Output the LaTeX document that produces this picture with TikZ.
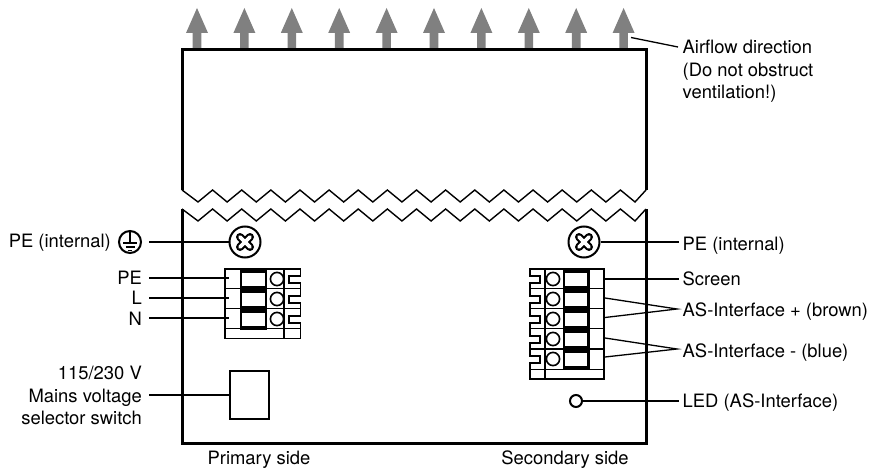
\documentclass[tikz,border=0pt]{standalone}
\usepackage{fontspec}
\setmainfont{TeX Gyre Heros}
\tikzset{
  x=1pt,y=-1pt,
  housing/.style={line width=3pt,line join=miter},
  zig/.style={line width=1.4pt,line join=miter},
  lead/.style={line width=1.3pt},
  thinline/.style={line width=1.3pt},
  outerline/.style={line width=1.8pt,line join=miter},
  flow/.style={fill=black!50,draw=none},
  txt/.style={font=\fontsize{18.4}{22.5}\selectfont,inner sep=0pt},
  ltxt/.style={txt,anchor=base west},
  rtxt/.style={txt,anchor=base east},
  ctxt/.style={txt,anchor=base},
  roundnode/.style={circle,draw,line width=2pt,fill=white,inner sep=0pt,minimum size=#1}
}
\newcommand{\screwcross}[1]{%
  \begin{scope}[shift={(#1)}]
    \draw[line width=8pt,line cap=round] (-5,-5) -- (5,5) (-5,5) -- (5,-5);
    \draw[white,line width=3.6pt,line cap=round] (-5,-5) -- (5,5) (-5,5) -- (5,-5);
  \end{scope}}
\begin{document}
\begin{tikzpicture}
\useasboundingbox (0,0) rectangle (884,468);
% airflow arrows
\foreach \i in {0,...,9}{
  \pgfmathsetmacro{\cx}{197+47.4*\i}
  \fill[flow] (\cx-4.3,50) -- (\cx-4.3,33) -- (\cx-11,33) -- (\cx,8) -- (\cx+11,33) -- (\cx+4.3,33) -- (\cx+4.3,50) -- cycle;
}
% labels
\node[txt,anchor=west,align=left] (air) at (682.5,71.5) {Airflow direction\\(Do not obstruct\\ventilation!)};
\node[rtxt] (pel) at (111,247) {PE (internal)};
\node[circle,draw,line width=2pt,minimum size=22pt,inner sep=0pt] (gnd) at (130,242) {};
\node[rtxt] (lpe) at (142,284.3) {PE};
\node[rtxt] (ll) at (142,304) {L};
\node[rtxt] (ln) at (142,325) {N};
\node[txt,anchor=east,align=right] (sw) at (142,395.5) {115/230 V\\Mains voltage\\selector switch};
\node[ctxt] (prim) at (259,464) {Primary side};
\node[ctxt] (sec) at (565,464) {Secondary side};
\node[ltxt] (per) at (682.5,250) {PE (internal)};
\node[ltxt] (scr) at (682.5,285.3) {Screen};
\node[ltxt] (asp) at (682.5,316.5) {AS-Interface + (brown)};
\node[ltxt] (asm) at (682.5,357) {AS-Interface - (blue)};
\node[ltxt] (led) at (682.5,407.5) {LED (AS-Interface)};
% ground symbol
\draw[line width=1.3pt] (130,232) -- (130,243);
\draw[line width=1.3pt] (123,243) -- (137,243) (125.5,247) -- (134.5,247) (128,250.5) -- (132,250.5);
% housing
\draw[housing] (182,190) -- (182,50) -- (646,50) -- (646,190);
\draw[housing] (182,209) -- (182,443) -- (646,443) -- (646,209);
\draw[zig] (182,190) -- plot[samples at={0,...,30}] ({198+14.567*\x},{202-12*mod(\x,2)}) -- (646,190);
\draw[zig] (182,209) -- plot[samples at={0,...,30}] ({198+14.567*\x},{221-12*mod(\x,2)}) -- (646,209);
% coordinates on components
\coordinate (airtip) at (631,37.5);
\coordinate (airend) at (678,47);
\coordinate (lgnd) at (149,242);
\coordinate (rt) at (679,242);
\coordinate (a1) at (149,278); \coordinate (b1) at (229,278);
\coordinate (a2) at (149,298); \coordinate (b2) at (229,298);
\coordinate (a3) at (149,318); \coordinate (b3) at (229,318);
\coordinate (swa) at (149,395);
\coordinate (scra) at (604,279); \coordinate (scrb) at (679,279);
\coordinate (p1) at (605,298); \coordinate (p2) at (605,317.5); \coordinate (pe) at (677,309);
\coordinate (m1) at (605,338); \coordinate (m2) at (605,357); \coordinate (me) at (677,349);
\coordinate (lede) at (679,401);
% screws, switch, led
\node[roundnode=31pt] (sl) at (245,242) {};
\node[roundnode=31pt] (sr) at (584,242) {};
\screwcross{245,242}
\screwcross{584,242}
\node[draw,line width=1.8pt,minimum width=39pt,minimum height=48pt,inner sep=0pt] (swbox) at (249.5,395) {};
\node[roundnode=12pt] (ledc) at (576,401) {};
% left terminal
\draw[thinline] (225,288.7) -- (300,288.7) (225,308.7) -- (300,308.7) (225,328.7) -- (300,328.7);
\draw[thinline] (284,269) -- (284,338);
\fill[black] (240,269) rectangle (266.5,329.5);
\foreach \y in {272.7,292.7,312.7}{\fill[white] (241.8,\y) rectangle (264.6,\y+13.6);}
\foreach \y in {279,299,319}{\draw[line width=1.6pt,fill=white] (277,\y) circle (6.6);}
\draw[outerline] (225,269) -- (300.5,269) -- (300.5,276) -- (289,276) -- (289,283) -- (300.5,283) -- (300.5,296) -- (289,296) -- (289,303) -- (300.5,303) -- (300.5,316) -- (289,316) -- (289,323) -- (300.5,323) -- (300.5,338.5) -- (225,338.5) -- cycle;
% right terminal
\draw[thinline] (530,288.5) -- (604,288.5) (530,308.7) -- (604,308.7) (530,328.7) -- (604,328.7) (530,349) -- (604,349) (530,369.5) -- (604,369.5);
\draw[thinline] (545,269) -- (545,379);
\fill[black] (563,269) rectangle (589.5,369.5);
\foreach \y in {272.5,292.7,312.7,332.7,353}{\fill[white] (564.8,\y) rectangle (587.4,\y+13);}
\foreach \y in {279,299,319,339,359}{\draw[line width=1.6pt,fill=white] (553,\y) circle (6.6);}
\draw[outerline] (604,269) -- (604,379) -- (530,379) -- (530,363) -- (540,363) -- (540,356) -- (530,356) -- (530,343) -- (540,343) -- (540,336) -- (530,336) -- (530,323) -- (540,323) -- (540,316) -- (530,316) -- (530,303) -- (540,303) -- (540,296) -- (530,296) -- (530,283) -- (540,283) -- (540,276) -- (530,276) -- (530,269) -- cycle;
% connectors
\draw[lead] (airtip) -- (airend);
\draw[lead] (lgnd) -- (sl.west);
\draw[lead] (a1) -- (b1);
\draw[lead] (a2) -- (b2);
\draw[lead] (a3) -- (b3);
\draw[lead] (swa) -- (swbox.west);
\draw[lead] (sr.east) -- (rt);
\draw[lead] (scra) -- (scrb);
\draw[lead] (p1) -- (pe) -- (p2);
\draw[lead] (m1) -- (me) -- (m2);
\draw[lead] (ledc.east) -- (lede);
\end{tikzpicture}
\end{document}
